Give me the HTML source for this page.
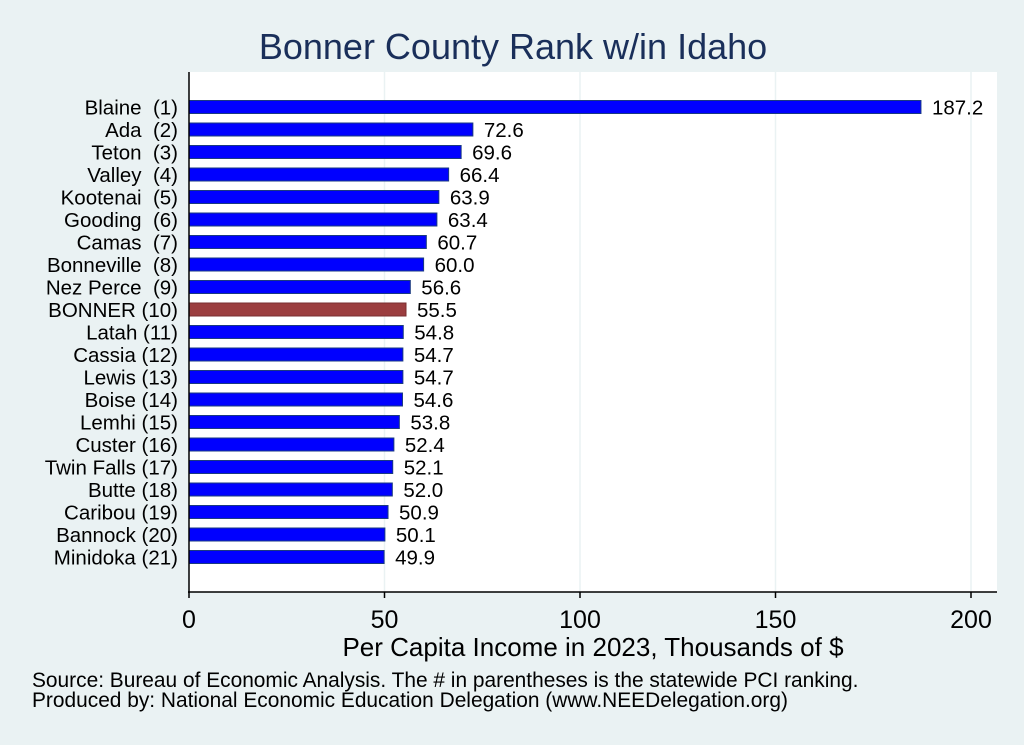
<!DOCTYPE html>
<html><head><meta charset="utf-8"><style>body{margin:0;background:#eaf2f3}svg{display:block}text{font-family:"Liberation Sans",Arial,sans-serif}</style></head><body>
<svg width="1024" height="745" viewBox="0 0 1024 745">
<rect width="1024" height="745" fill="#eaf2f3"/>
<text x="513" y="59" font-size="36" fill="#1a2f5a" text-anchor="middle">Bonner County Rank w/in Idaho</text>
<rect x="189" y="72" width="808" height="520" fill="#fff"/>
<g stroke="#eaf2f3" stroke-width="1.5">
<line x1="384.5" y1="72" x2="384.5" y2="592"/><line x1="580" y1="72" x2="580" y2="592"/><line x1="775.5" y1="72" x2="775.5" y2="592"/><line x1="971" y1="72" x2="971" y2="592"/>
</g>
<g id="bars"></g>
<line x1="189" y1="72" x2="189" y2="593" stroke="#000" stroke-width="1.5"/>
<line x1="188" y1="592" x2="997" y2="592" stroke="#000" stroke-width="1.5"/>
<g stroke="#000" stroke-width="1.5">
<line x1="189" y1="592" x2="189" y2="598"/><line x1="384.5" y1="592" x2="384.5" y2="598"/><line x1="580" y1="592" x2="580" y2="598"/><line x1="775.5" y1="592" x2="775.5" y2="598"/><line x1="971" y1="592" x2="971" y2="598"/>
</g>
<g font-size="25" text-anchor="middle" fill="#000">
<text x="189" y="628">0</text><text x="384.5" y="628">50</text><text x="580" y="628">100</text><text x="775.5" y="628">150</text><text x="971" y="628">200</text>
</g>
<text x="593" y="656" font-size="26" text-anchor="middle">Per Capita Income in 2023, Thousands of $</text>
<text x="32" y="687" font-size="20.9">Source: Bureau of Economic Analysis. The # in parentheses is the statewide PCI ranking.</text>
<text x="32" y="707" font-size="20.9">Produced by: National Economic Education Delegation (www.NEEDelegation.org)</text>
</svg>
<script>
var d=[["Blaine  (1)",187.2],["Ada  (2)",72.6],["Teton  (3)",69.6],["Valley  (4)",66.4],["Kootenai  (5)",63.9],["Gooding  (6)",63.4],["Camas  (7)",60.7],["Bonneville  (8)",60.0],["Nez Perce  (9)",56.6],["BONNER (10)",55.5],["Latah (11)",54.8],["Cassia (12)",54.7],["Lewis (13)",54.7],["Boise (14)",54.6],["Lemhi (15)",53.8],["Custer (16)",52.4],["Twin Falls (17)",52.1],["Butte (18)",52.0],["Caribou (19)",50.9],["Bannock (20)",50.1],["Minidoka (21)",49.9]];
var s="";d.forEach(function(r,i){var y=107+i*22.5,w=r[1]*3.91,b=i==9;
s+='<rect x="189" y="'+(y-6.5)+'" width="'+w+'" height="13" fill="'+(b?'#9b3d3f':'#0000ff')+'" stroke="'+(b?'#7a2e30':'#1a3a80')+'" stroke-width="1"/>';
s+='<text x="'+(189+w+11)+'" y="'+(y+7.5)+'" font-size="20.5">'+r[1].toFixed(1)+'</text>';
s+='<text x="178" y="'+(y+7.5)+'" font-size="20.5" text-anchor="end" xml:space="preserve">'+r[0]+'</text>';});
document.getElementById("bars").innerHTML=s;
</script>
</body></html>
